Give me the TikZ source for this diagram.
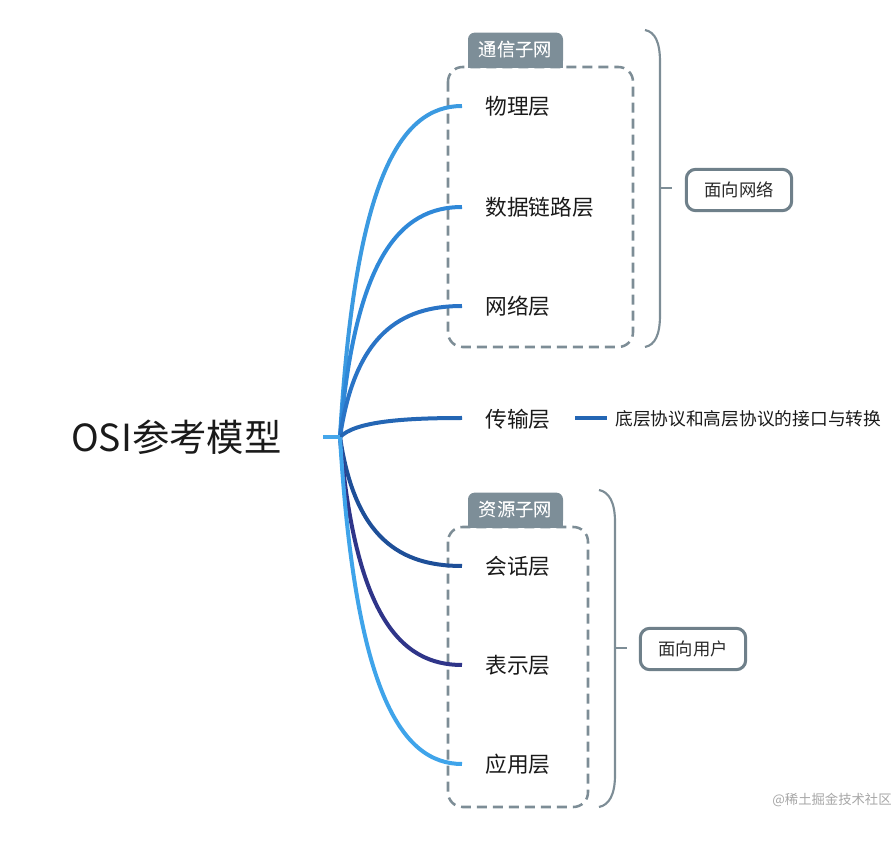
\documentclass[tikz,border=0pt]{standalone}
\usepackage{fontspec}
\setmainfont{Noto Sans CJK SC}
\definecolor{txt}{HTML}{1A1A1A}
\definecolor{txttwo}{HTML}{2A2A2A}
\definecolor{boxgray}{HTML}{7D8D96}
\definecolor{tabgray}{HTML}{7D8E98}
\definecolor{sumgray}{HTML}{6F808A}
\definecolor{cA}{HTML}{3B9AE1}
\definecolor{cB}{HTML}{2F88D8}
\definecolor{cC}{HTML}{2A74C6}
\definecolor{cD}{HTML}{2466B4}
\definecolor{cE}{HTML}{1E4F98}
\definecolor{cF}{HTML}{2F3589}
\definecolor{cG}{HTML}{3FA4EA}
\definecolor{cRoot}{HTML}{45A6EA}
\begin{document}
\begin{tikzpicture}[x=0.75pt,y=-0.75pt,
  lbl/.style={font=\fontsize{16.3}{18}\selectfont, text=txt, anchor=west, inner sep=0pt},
  conn/.style={line width=3pt},
  dbox/.style={draw=boxgray, line width=1.9pt, dash pattern=on 7.5pt off 4.5pt, rounded corners=11pt},
  tabnode/.style={fill=tabgray, text=white, rounded corners=5pt, minimum width=71.25pt, minimum height=26pt, inner sep=0pt, font=\fontsize{13.7}{15}\selectfont},
  bracepath/.style={draw=boxgray, line width=1.6pt},
  sumbox/.style={draw=sumgray, line width=2.3pt, rounded corners=7pt, minimum width=79pt, minimum height=31pt, inner sep=0pt, font=\fontsize{13}{15}\selectfont, text=txttwo},
  note/.style={font=\fontsize{13.3}{15}\selectfont, text=txt, anchor=west, inner sep=0pt}
]
\useasboundingbox (0,0) rectangle (894,848);

% dashed group boxes
\draw[dbox] (448,67) rectangle (633,347);
\draw[dbox] (448,527) rectangle (588,807);

% tabs
\node[tabnode] (t1) at (515.5,50) {通信子网};
\fill[tabgray] (t1.south west) rectangle (t1.east);
\node[text=white, font=\fontsize{13.7}{15}\selectfont, inner sep=0pt] at (t1.center) {通信子网};
\node[tabnode] (t2) at (515.5,510) {资源子网};
\fill[tabgray] (t2.south west) rectangle (t2.east);
\node[text=white, font=\fontsize{13.7}{15}\selectfont, inner sep=0pt] at (t2.center) {资源子网};

% root
\node[font=\fontsize{28}{30}\selectfont, text=txt, anchor=west, inner sep=0pt] (root) at (71,437) {OSI参考模型};
\coordinate (stub) at (323,437);
\coordinate (hub) at (340,437);

% children
\node[lbl] (l1) at (485,106) {物理层};
\node[lbl] (l2) at (485,207) {数据链路层};
\node[lbl] (l3) at (485,306) {网络层};
\node[lbl] (l4) at (485,419) {传输层};
\node[lbl] (l5) at (485,566) {会话层};
\node[lbl] (l6) at (485,665) {表示层};
\node[lbl] (l7) at (485,764) {应用层};

\coordinate (e1) at (462,106);
\coordinate (e2) at (462,207);
\coordinate (e3) at (462,306);
\coordinate (e4) at (462,418);
\coordinate (e5) at (462,566);
\coordinate (e6) at (462,665);
\coordinate (e7) at (462,764);

\draw[conn, cA] (hub) .. controls (355,179) and (400,106) .. (e1);
\draw[conn, cB] (hub) .. controls (355,258) and (400,207) .. (e2);
\draw[conn, cC] (hub) .. controls (355,335) and (400,306) .. (e3);
\draw[conn, cD] (hub) .. controls (355,422) and (400,418) .. (e4);
\draw[conn, cE] (hub) .. controls (355,538) and (400,566) .. (e5);
\draw[conn, cF] (hub) .. controls (355,615) and (400,665) .. (e6);
\draw[conn, cG] (hub) .. controls (355,689) and (400,764) .. (e7);
\draw[conn, cRoot] (stub) -- (hub);

% transport note
\node[note] (n4) at (615,419) {底层协议和高层协议的接口与转换};
\coordinate (n4a) at (575,418);
\coordinate (n4b) at (607,418);
\draw[line width=2.4pt, cD] (n4a) -- (n4b);

% braces
\draw[bracepath] (645,30) .. controls (655,32) and (660,42) .. (660,62) -- (660,315) .. controls (660,335) and (655,345) .. (645,347);
\draw[bracepath] (660,188) -- (672,188);
\draw[bracepath] (599,490) .. controls (609,492) and (615,502) .. (615,522) -- (615,775) .. controls (615,795) and (609,805) .. (599,807);
\draw[bracepath] (615,648) -- (627,648);

% summary boxes
\node[sumbox] (s1) at (739,190) {面向网络};
\node[sumbox] (s2) at (693,649) {面向用户};

% watermark
\node[font=\fontsize{10}{12}\selectfont, text=black!35, inner sep=0pt] (wm) at (832,800) {@稀土掘金技术社区};
\end{tikzpicture}
\end{document}
